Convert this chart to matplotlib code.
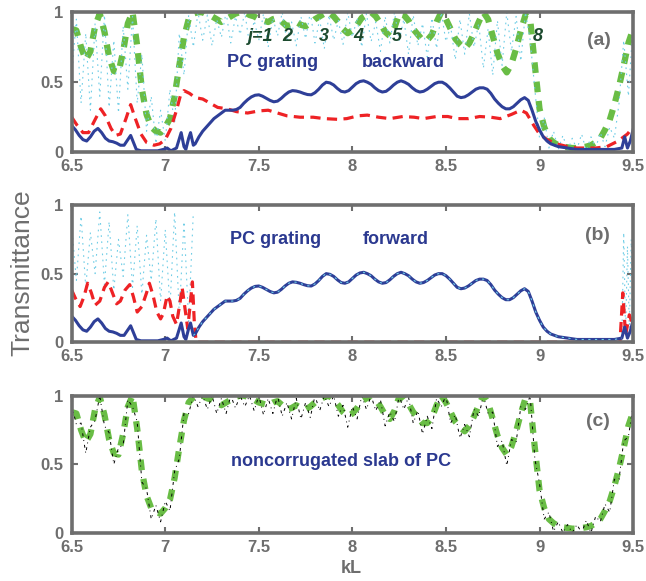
import numpy as np
import matplotlib
matplotlib.use("Agg")
import matplotlib.pyplot as plt

plt.rcParams['font.family'] = ['Liberation Sans', 'DejaVu Sans']

# common kL grid for the densely sampled curves
kl = np.linspace(6.5, 9.5, 121)

# PC grating, blue solid (same in a and b)
blue_x = [6.50, 6.52, 6.54, 6.56, 6.58, 6.60, 6.62, 6.64, 6.66, 6.68,
          6.70, 6.72, 6.74, 6.76, 6.78, 6.80, 6.815, 6.83, 6.845, 6.87,
          6.92, 6.96, 6.99, 7.01, 7.03, 7.06, 7.085, 7.10, 7.11, 7.125,
          7.135, 7.15, 7.16, 7.18, 7.20, 7.22, 7.24, 7.26, 7.28, 7.30,
          7.32, 7.34, 7.36, 7.38, 7.40, 7.42, 7.44, 7.46, 7.48, 7.50,
          7.52, 7.54, 7.56, 7.58, 7.60, 7.62, 7.64, 7.66, 7.68, 7.70,
          7.72, 7.74, 7.76, 7.78, 7.80, 7.82, 7.84, 7.86, 7.88, 7.90,
          7.92, 7.94, 7.96, 7.98, 8.00, 8.02, 8.04, 8.06, 8.08, 8.10,
          8.12, 8.14, 8.16, 8.18, 8.20, 8.22, 8.24, 8.26, 8.28, 8.30,
          8.32, 8.34, 8.36, 8.38, 8.40, 8.42, 8.44, 8.46, 8.48, 8.50,
          8.52, 8.54, 8.56, 8.58, 8.60, 8.62, 8.64, 8.66, 8.68, 8.70,
          8.72, 8.74, 8.76, 8.78, 8.80, 8.82, 8.84, 8.86, 8.88, 8.90,
          8.92, 8.94, 8.96, 8.98, 9.00, 9.02, 9.04, 9.06, 9.08, 9.10,
          9.15, 9.20, 9.30, 9.40, 9.44, 9.455, 9.47, 9.485, 9.50]
blue_y = [0.19, 0.16, 0.12, 0.09, 0.08, 0.11, 0.15, 0.17, 0.14, 0.10,
          0.08, 0.075, 0.065, 0.05, 0.05, 0.09, 0.12, 0.07, 0.02, 0.01,
          0.01, 0.01, 0.02, 0.03, 0.01, 0.03, 0.14, 0.04, 0.02, 0.10,
          0.14, 0.05, 0.06, 0.11, 0.15, 0.18, 0.21, 0.24, 0.26, 0.28,
          0.30, 0.30, 0.30, 0.305, 0.32, 0.35, 0.375, 0.395, 0.407, 0.41,
          0.40, 0.385, 0.37, 0.36, 0.365, 0.385, 0.41, 0.43, 0.44, 0.437,
          0.43, 0.42, 0.412, 0.41, 0.425, 0.45, 0.48, 0.50, 0.495, 0.48,
          0.455, 0.435, 0.43, 0.44, 0.465, 0.49, 0.505, 0.51, 0.50, 0.485,
          0.46, 0.44, 0.43, 0.435, 0.455, 0.48, 0.50, 0.51, 0.50, 0.485,
          0.46, 0.44, 0.43, 0.435, 0.45, 0.47, 0.49, 0.50, 0.50, 0.485,
          0.46, 0.43, 0.40, 0.39, 0.395, 0.41, 0.43, 0.45, 0.46, 0.46,
          0.45, 0.42, 0.38, 0.35, 0.325, 0.31, 0.31, 0.325, 0.35, 0.375,
          0.39, 0.37, 0.30, 0.22, 0.16, 0.11, 0.08, 0.06, 0.05, 0.04,
          0.03, 0.02, 0.02, 0.02, 0.03, 0.11, 0.03, 0.08, 0.16]

# red dashed, panel a
red_a_x = [6.50, 6.53, 6.56, 6.59, 6.62, 6.655, 6.68, 6.71, 6.735, 6.76,
           6.79, 6.815, 6.84, 6.87, 6.90, 6.94, 6.97, 7.00, 7.03, 7.06,
           7.08, 7.10, 7.13, 7.16, 7.20, 7.24, 7.28, 7.33, 7.38, 7.44,
           7.50, 7.55, 7.60, 7.65, 7.72, 7.79, 7.85, 7.92, 7.97, 8.03,
           8.08, 8.14, 8.20, 8.27, 8.33, 8.38, 8.45, 8.51, 8.56, 8.62,
           8.68, 8.74, 8.79, 8.85, 8.90, 8.93, 8.97, 9.00, 9.04, 9.09,
           9.15, 9.20, 9.30, 9.36, 9.42, 9.47, 9.50]
red_a_y = [0.25, 0.19, 0.14, 0.14, 0.22, 0.31, 0.26, 0.17, 0.12, 0.13,
           0.24, 0.34, 0.24, 0.13, 0.07, 0.05, 0.06, 0.09, 0.17, 0.30,
           0.40, 0.44, 0.42, 0.39, 0.38, 0.35, 0.32, 0.31, 0.29, 0.28,
           0.295, 0.30, 0.28, 0.26, 0.25, 0.25, 0.24, 0.235, 0.24, 0.26,
           0.265, 0.25, 0.24, 0.255, 0.25, 0.24, 0.255, 0.255, 0.24, 0.24,
           0.255, 0.25, 0.24, 0.27, 0.30, 0.28, 0.19, 0.13, 0.09, 0.06,
           0.04, 0.03, 0.03, 0.04, 0.08, 0.13, 0.18]

# red dashed, panel b
red_b_x = [6.50, 6.52, 6.545, 6.565, 6.585, 6.605, 6.625, 6.65, 6.675, 6.695,
           6.715, 6.74, 6.76, 6.785, 6.81, 6.83, 6.85, 6.875, 6.90, 6.915,
           6.935, 6.955, 6.975, 6.99, 7.01, 7.025, 7.04, 7.06, 7.08, 7.09,
           7.105, 7.12, 7.135, 7.145, 7.155, 7.165, 9.43, 9.445, 9.46, 9.48,
           9.50]
red_b_y = [0.38, 0.32, 0.26, 0.33, 0.43, 0.36, 0.27, 0.30, 0.40, 0.44,
           0.37, 0.28, 0.30, 0.38, 0.42, 0.33, 0.22, 0.26, 0.36, 0.43,
           0.34, 0.22, 0.17, 0.21, 0.34, 0.30, 0.19, 0.13, 0.30, 0.40,
           0.25, 0.10, 0.30, 0.44, 0.15, 0.00, 0.00, 0.36, 0.05, 0.20,
           0.12]

# green thick dashed (slab), on kl grid, panels a and c
green = [0.88, 0.87, 0.75, 0.66, 0.72, 0.90, 0.99, 0.86, 0.68, 0.58,
         0.57, 0.72, 0.92, 1.00, 0.76, 0.45, 0.27, 0.18, 0.15, 0.14,
         0.18, 0.24, 0.40, 0.62, 0.82, 0.95, 0.99, 1.00, 1.00, 0.98,
         0.97, 0.95, 0.93, 0.95, 0.97, 0.99, 1.00, 1.00, 0.98, 0.97,
         0.95, 0.94, 0.93, 0.95, 0.96, 0.93, 0.90, 0.91, 0.93, 0.91,
         0.90, 0.92, 0.95, 0.97, 0.99, 1.00, 0.97, 0.93, 0.88, 0.85,
         0.87, 0.91, 0.96, 0.98, 1.00, 0.97, 0.92, 0.86, 0.83, 0.89,
         0.99, 0.98, 0.94, 0.88, 0.84, 0.80, 0.80, 0.84, 0.93, 1.00,
         0.95, 0.88, 0.81, 0.77, 0.74, 0.78, 0.85, 0.93, 1.00, 0.95,
         0.83, 0.71, 0.62, 0.57, 0.63, 0.74, 0.87, 0.98, 0.95, 0.62,
         0.31, 0.18, 0.10, 0.07, 0.05, 0.04, 0.035, 0.03, 0.03, 0.035,
         0.04, 0.05, 0.07, 0.10, 0.16, 0.23, 0.34, 0.47, 0.62, 0.78,
         0.88]

# cyan dotted (fast fringes), panel a, on kl grid
cyan_a = [0.55, 0.95, 0.35, 0.85, 0.30, 0.92, 0.40, 0.98, 0.32, 0.80,
          0.28, 0.90, 0.45, 0.97, 0.35, 0.70, 0.15, 0.40, 0.06, 0.30,
          0.08, 0.45, 0.20, 0.85, 0.55, 0.98, 0.75, 1.00, 0.80, 0.98,
          0.76, 0.95, 0.82, 1.00, 0.78, 0.97, 0.84, 1.00, 0.77, 0.94,
          0.80, 0.99, 0.75, 0.96, 0.83, 1.00, 0.79, 0.93, 0.76, 0.97,
          0.81, 1.00, 0.78, 0.95, 0.74, 0.98, 0.80, 0.94, 0.77, 1.00,
          0.82, 0.96, 0.75, 0.99, 0.79, 0.93, 0.72, 0.97, 0.78, 1.00,
          0.80, 0.95, 0.70, 0.98, 0.76, 0.92, 0.68, 0.96, 0.74, 1.00,
          0.79, 0.90, 0.66, 0.95, 0.70, 0.99, 0.75, 0.92, 0.60, 0.88,
          0.55, 0.94, 0.62, 1.00, 0.72, 0.97, 0.65, 1.00, 0.80, 0.45,
          0.10, 0.25, 0.03, 0.15, 0.02, 0.12, 0.01, 0.10, 0.02, 0.13,
          0.01, 0.11, 0.03, 0.14, 0.04, 0.18, 0.10, 0.35, 0.80, 0.40,
          0.92]

# cyan dotted, panel b (left part on kl grid up to 7.15, right spike)
cyan_b_left = [0.85, 0.45, 0.92, 0.40, 0.80, 0.50, 0.95, 0.42, 0.88, 0.38,
               0.75, 0.48, 0.93, 0.40, 0.85, 0.35, 0.78, 0.45, 0.90, 0.30,
               0.82, 0.25, 0.95, 0.20, 0.88, 0.15, 0.95]
cyan_b_right_x = [9.44, 9.45, 9.46, 9.47, 9.48, 9.49, 9.50]
cyan_b_right_y = [0.02, 0.80, 0.05, 0.70, 0.10, 0.75, 0.20]

# black dash-dot, panel c, on kl grid
black_c = [0.93, 0.79, 0.80, 0.58, 0.77, 0.82, 1.00, 0.78, 0.73, 0.50,
           0.62, 0.64, 0.97, 0.92, 0.81, 0.37, 0.32, 0.10, 0.20, 0.08,
           0.23, 0.16, 0.45, 0.54, 0.87, 0.87, 1.00, 0.92, 1.00, 0.90,
           1.00, 0.87, 0.98, 0.87, 1.00, 0.91, 1.00, 0.92, 1.00, 0.89,
           1.00, 0.86, 0.98, 0.87, 1.00, 0.85, 0.95, 0.83, 0.98, 0.83,
           0.95, 0.84, 1.00, 0.89, 1.00, 0.92, 1.00, 0.85, 0.93, 0.77,
           0.92, 0.83, 1.00, 0.90, 1.00, 0.89, 0.97, 0.78, 0.88, 0.81,
           1.00, 0.90, 0.99, 0.80, 0.89, 0.72, 0.85, 0.76, 0.98, 0.92,
           1.00, 0.80, 0.86, 0.69, 0.79, 0.70, 0.90, 0.85, 1.00, 0.87,
           0.88, 0.63, 0.67, 0.49, 0.68, 0.66, 0.92, 0.90, 1.00, 0.54,
           0.36, 0.10, 0.15, 0.01, 0.08, 0.00, 0.06, 0.00, 0.06, 0.00,
           0.09, 0.00, 0.12, 0.08, 0.21, 0.15, 0.39, 0.39, 0.67, 0.70,
           0.93]

x_ticks = [6.5, 7, 7.5, 8, 8.5, 9, 9.5]
x_labels = ['6.5', '7', '7.5', '8', '8.5', '9', '9.5']
y_ticks = [0, 0.5, 1]
y_labels = ['0', '0.5', '1']

gray = '#6e6e6e'
c_blue = '#2e3f98'
c_red = '#ee2225'
c_green = '#69bd45'
c_cyan = '#6fcde6'
c_text = '#2b3990'
c_j = '#1c4a2e'


def style(ax):
    ax.set_xlim(6.5, 9.5)
    ax.set_ylim(0, 1)
    ax.set_xticks(x_ticks)
    ax.set_xticklabels(x_labels, fontweight='bold')
    ax.set_yticks(y_ticks)
    ax.set_yticklabels(y_labels, fontweight='bold')
    ax.tick_params(direction='in', top=True, right=True, length=4, width=1.5,
                   colors=gray, labelsize=12)
    ax.tick_params(axis='x', pad=5)
    ax.tick_params(axis='y', pad=6)
    for s in ax.spines.values():
        s.set_color(gray)
        s.set_linewidth(2.6)


fig = plt.figure(figsize=(6.46, 5.81), dpi=100)
ax_a = fig.add_axes([0.111, 0.738, 0.869, 0.241])
ax_b = fig.add_axes([0.111, 0.411, 0.869, 0.236])
ax_c = fig.add_axes([0.111, 0.083, 0.869, 0.236])

# (a) backward
ax_a.plot(kl, green, color=c_green, lw=4.5, dashes=(1.7, 1.4))
ax_a.plot(kl, cyan_a, color=c_cyan, lw=0.8, dashes=(1.5, 4))
ax_a.plot(red_a_x, red_a_y, color=c_red, lw=2.3, dashes=(3.2, 2.0))
ax_a.plot(blue_x, blue_y, color=c_blue, lw=2.2)
style(ax_a)
for lbl, xx in zip(['j=1', '2', '3', '4', '5', '8'], [7.51, 7.65, 7.85, 8.03, 8.24, 8.99]):
    ax_a.text(xx, 0.83, lbl, color=c_j, fontsize=13, fontweight='bold',
              fontstyle='italic', ha='center', va='center')
ax_a.text(7.575, 0.64, 'PC grating', color=c_text, fontsize=13, fontweight='bold',
          ha='center', va='center')
ax_a.text(8.27, 0.64, 'backward', color=c_text, fontsize=13, fontweight='bold',
          ha='center', va='center')
ax_a.text(9.32, 0.80, '(a)', color=gray, fontsize=14, fontweight='bold',
          ha='center', va='center')

# (b) forward
blue_xa = np.array(blue_x)
blue_ya = np.array(blue_y)
mid = (blue_xa >= 7.15) & (blue_xa <= 9.44)
ax_b.plot(kl[:len(cyan_b_left)], cyan_b_left, color=c_cyan, lw=0.8, dashes=(1.5, 4))
ax_b.plot(cyan_b_right_x, cyan_b_right_y, color=c_cyan, lw=0.8, dashes=(1.5, 4))
ax_b.plot(red_b_x, red_b_y, color=c_red, lw=2.3, dashes=(3.2, 2.0))
ax_b.plot(blue_x, blue_y, color=c_blue, lw=2.2)
ax_b.plot(blue_xa[mid], blue_ya[mid], color=c_cyan, lw=0.8, dashes=(2, 4))
style(ax_b)
ax_b.text(7.59, 0.75, 'PC grating', color=c_text, fontsize=13, fontweight='bold',
          ha='center', va='center')
ax_b.text(8.23, 0.75, 'forward', color=c_text, fontsize=13, fontweight='bold',
          ha='center', va='center')
ax_b.text(9.31, 0.78, '(b)', color=gray, fontsize=14, fontweight='bold',
          ha='center', va='center')

# (c) noncorrugated slab
ax_c.plot(kl, green, color=c_green, lw=4.5, dashes=(1.7, 1.4))
ax_c.plot(kl, black_c, color='black', lw=0.7, dashes=(3, 4, 1, 4))
style(ax_c)
ax_c.text(7.94, 0.52, 'noncorrugated slab of PC', color=c_text, fontsize=13,
          fontweight='bold', ha='center', va='center')
ax_c.text(9.31, 0.81, '(c)', color=gray, fontsize=14, fontweight='bold',
          ha='center', va='center')

fig.text(0.034, 0.53, 'Transmittance', rotation=90, color=gray, fontsize=19,
         ha='center', va='center')
fig.text(0.543, 0.022, 'kL', color=gray, fontsize=13, fontweight='bold',
         ha='center', va='center')

fig.savefig('out.png', dpi=100)
